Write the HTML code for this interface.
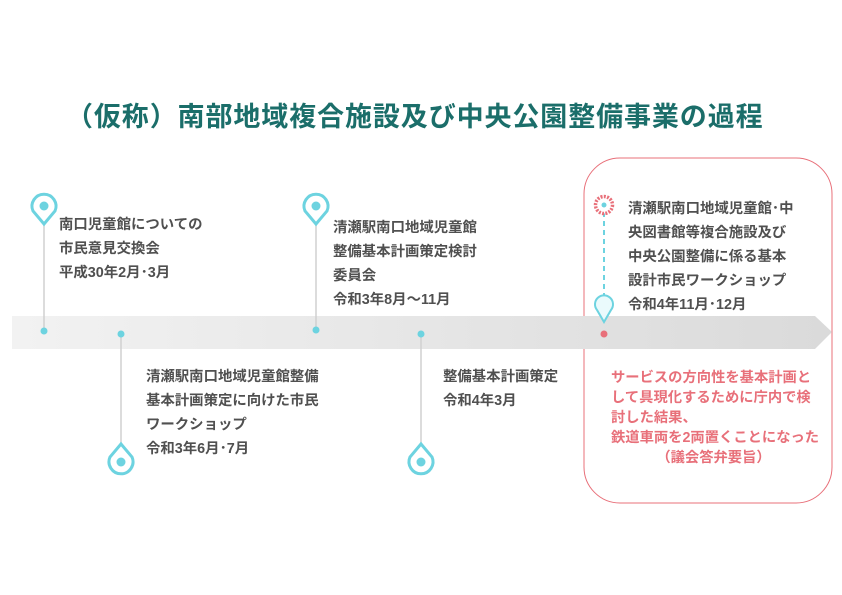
<!DOCTYPE html>
<html><head><meta charset="utf-8"><style>
body{margin:0;width:842px;height:595px;background:#fff;position:relative;overflow:hidden;font-family:"Liberation Sans","Noto Sans CJK JP",sans-serif}
.t{position:absolute;font-size:14.4px;font-weight:bold;color:#505050;line-height:24px;white-space:nowrap}
.r{position:absolute;font-size:14.3px;font-weight:bold;color:#e8707a;line-height:20px;white-space:nowrap}
</style></head><body>
<svg width="842" height="595" style="position:absolute;left:0;top:0">
<defs><linearGradient id="g" x1="0" x2="1"><stop offset="0" stop-color="#f2f2f2"/><stop offset="1" stop-color="#dadada"/></linearGradient></defs>
<rect x="584" y="158" width="248" height="345" rx="36" fill="none" stroke="#e8707a" stroke-width="1"/>
<polygon points="12,316 815,316 832,332 815,349 12,349" fill="url(#g)"/>
<g stroke="#d0d0d0" stroke-width="1.5">
<line x1="44" y1="222" x2="44" y2="331"/><line x1="121" y1="334" x2="121" y2="446"/>
<line x1="316" y1="222" x2="316" y2="330"/><line x1="421" y1="334" x2="421" y2="446"/>
</g>
<g fill="#6dd3e0">
<circle cx="44" cy="331" r="3.5"/><circle cx="121" cy="334" r="3.5"/><circle cx="316" cy="330" r="3.5"/><circle cx="421" cy="334" r="3.5"/>
</g>
<g fill="#fff" stroke="#6dd3e0" stroke-width="3">
<path d="M33,211 A12,12 0 1,1 55,211 L44,224 Z"/>
<path d="M305,211 A12,12 0 1,1 327,211 L316,224 Z"/>
<path d="M110,457 A12,12 0 1,0 132,457 L121,444 Z"/>
<path d="M410,457 A12,12 0 1,0 432,457 L421,444 Z"/>
</g>
<g fill="#6dd3e0"><circle cx="44" cy="206" r="4.5"/><circle cx="316" cy="206" r="4.5"/><circle cx="121" cy="462" r="4.5"/><circle cx="421" cy="462" r="4.5"/></g>
<line x1="604" y1="212" x2="604" y2="300" stroke="#6dd3e0" stroke-width="2" stroke-dasharray="5,4"/>
<circle cx="604" cy="205" r="8.5" fill="#fff" stroke="#e8707a" stroke-width="3.5" stroke-dasharray="2,1.3"/>
<circle cx="604" cy="205" r="2.5" fill="#6dd3e0"/>
<path d="M597,310 A9,9 0 1,1 611,310 L604,322 Z" fill="#eafafc" stroke="#6dd3e0" stroke-width="2"/>
<circle cx="604" cy="334" r="3.5" fill="#e8707a"/>
</svg>
<div style="position:absolute;left:66px;width:720px;top:99px;font-size:27px;letter-spacing:0.9px;font-weight:bold;color:#1b6e6a;line-height:36px;white-space:nowrap">（仮称）南部地域複合施設及び中央公園整備事業の過程</div>
<div class="t" style="left:59px;top:213px">南口児童館についての<br>市民意見交換会<br>平成30年2月･3月</div>
<div class="t" style="left:146px;top:365px">清瀬駅南口地域児童館整備<br>基本計画策定に向けた市民<br>ワークショップ<br>令和3年6月･7月</div>
<div class="t" style="left:333px;top:216px">清瀬駅南口地域児童館<br>整備基本計画策定検討<br>委員会<br>令和3年8月～11月</div>
<div class="t" style="left:443px;top:365px">整備基本計画策定<br>令和4年3月</div>
<div class="t" style="left:628px;top:197px">清瀬駅南口地域児童館･中<br>央図書館等複合施設及び<br>中央公園整備に係る基本<br>設計市民ワークショップ<br>令和4年11月･12月</div>
<div class="r" style="left:611px;width:205px;top:368px">サービスの方向性を基本計画と<br>して具現化するために庁内で検<br>討した結果、<br>鉄道車両を2両置くことになった<br><span style="display:block;text-align:center">（議会答弁要旨）</span></div>
</body></html>
